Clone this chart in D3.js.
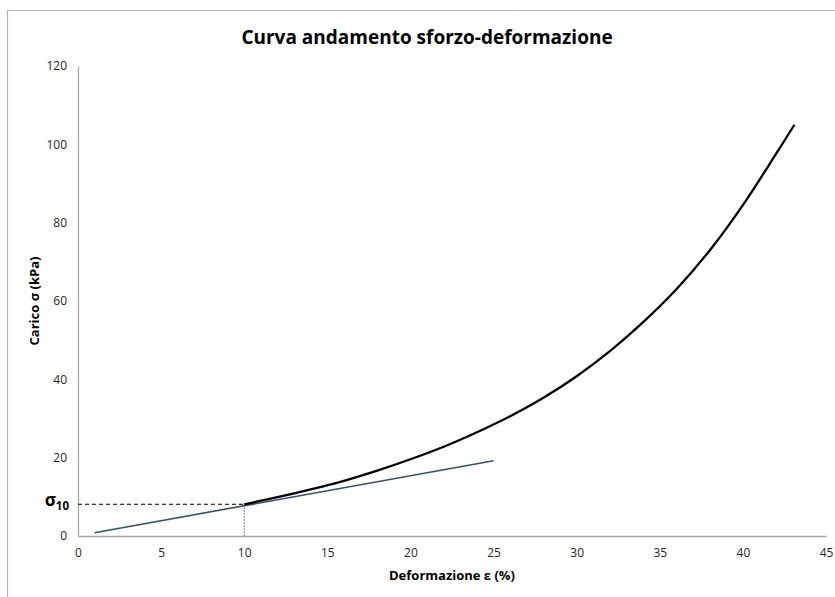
<!DOCTYPE html>
<html>
<head>
<meta charset="utf-8">
<script src="https://cdn.jsdelivr.net/npm/d3@7"></script>
<style>
  body { margin: 0; background: #fff; }
  svg { display: block; font-family: "Open Sans", sans-serif; }
</style>
</head>
<body>
<svg id="chart" width="835" height="597"></svg>
<script>
// Stress-strain curve: strain (%) and load (kPa)
const strain = [10, 12, 14, 16, 18, 20, 22, 24, 26, 28, 30, 32, 34, 36, 38, 40, 42, 43.1];
const load   = [8.1, 9.9, 11.9, 14.1, 16.7, 19.6, 22.8, 26.5, 30.6, 35.3, 40.8, 47.2, 54.6, 63.0, 72.9, 84.5, 97.6, 105.0];

// Initial tangent line
const tangentStrain = [1, 25];
const tangentLoad   = [0.85, 19.2];

// Reference point sigma_10
const refStrain = 10;
const refLoad = 8.1;

const xTicks = [0, 5, 10, 15, 20, 25, 30, 35, 40, 45];
const yTicks = [0, 20, 40, 60, 80, 100, 120];

const svg = d3.select("#chart");
const W = 835, H = 597;
const m = { left: 78, right: 9, top: 66, bottom: 61 };

const x = d3.scaleLinear().domain([0, 45]).range([m.left, W - m.right]);
const y = d3.scaleLinear().domain([0, 120]).range([H - m.bottom, m.top]);

// chart frame
svg.append("path")
  .attr("d", `M7.5,${H} V10.5 H${W}`)
  .attr("fill", "none").attr("stroke", "#b4b4b4").attr("stroke-width", 1.2);

// title
svg.append("text")
  .attr("x", 427).attr("y", 44)
  .attr("text-anchor", "middle")
  .attr("font-size", 19).attr("font-weight", "bold").attr("fill", "#000")
  .text("Curva andamento sforzo-deformazione");

// axes without tick marks
const xAxis = d3.axisBottom(x).tickValues(xTicks).tickSize(0).tickPadding(12);
const yAxis = d3.axisLeft(y).tickValues(yTicks).tickSize(0).tickPadding(11);

const gx = svg.append("g").attr("transform", `translate(0,${y(0)})`).call(xAxis);
const gy = svg.append("g").attr("transform", `translate(${x(0)},0)`).call(yAxis);
[gx, gy].forEach(g => {
  g.select(".domain").attr("stroke", "#a6a6a6").attr("stroke-width", 1.3);
  g.selectAll("text").attr("font-size", 12).attr("fill", "#262626").attr("font-family", "'Open Sans', sans-serif");
});

// axis titles
svg.append("text")
  .attr("x", 452).attr("y", 580)
  .attr("text-anchor", "middle")
  .attr("font-size", 13).attr("font-weight", "bold")
  .text("Deformazione ε (%)");

svg.append("text")
  .attr("transform", `translate(39,${y(60)}) rotate(-90)`)
  .attr("text-anchor", "middle")
  .attr("font-size", 13).attr("font-weight", "bold")
  .text("Carico σ (kPa)");

// sigma_10 guide lines
svg.append("line")
  .attr("x1", x(0)).attr("x2", x(refStrain))
  .attr("y1", y(refLoad)).attr("y2", y(refLoad))
  .attr("stroke", "#000").attr("stroke-width", 1).attr("stroke-dasharray", "4,3");
svg.append("line")
  .attr("x1", x(refStrain)).attr("x2", x(refStrain))
  .attr("y1", y(refLoad)).attr("y2", y(0))
  .attr("stroke", "#333").attr("stroke-width", 0.8).attr("stroke-dasharray", "1.5,1.5");

const sig = svg.append("text")
  .attr("x", 69).attr("y", y(refLoad) + 2)
  .attr("text-anchor", "end")
  .attr("font-weight", "bold").attr("fill", "#000");
sig.append("tspan").attr("font-size", 17).text("σ");
sig.append("tspan").attr("font-size", 11.5).attr("dy", 4).text("10");

// tangent line
const line = d3.line().x(d => x(d[0])).y(d => y(d[1]));
svg.append("path")
  .datum(d3.zip(tangentStrain, tangentLoad))
  .attr("d", line)
  .attr("fill", "none").attr("stroke", "#34506e").attr("stroke-width", 1.6);

// stress-strain curve
const curve = d3.line().curve(d3.curveCatmullRom).x(d => x(d[0])).y(d => y(d[1]));
svg.append("path")
  .datum(d3.zip(strain, load))
  .attr("d", curve)
  .attr("fill", "none").attr("stroke", "#000").attr("stroke-width", 2.3);
</script>
</body>
</html>
